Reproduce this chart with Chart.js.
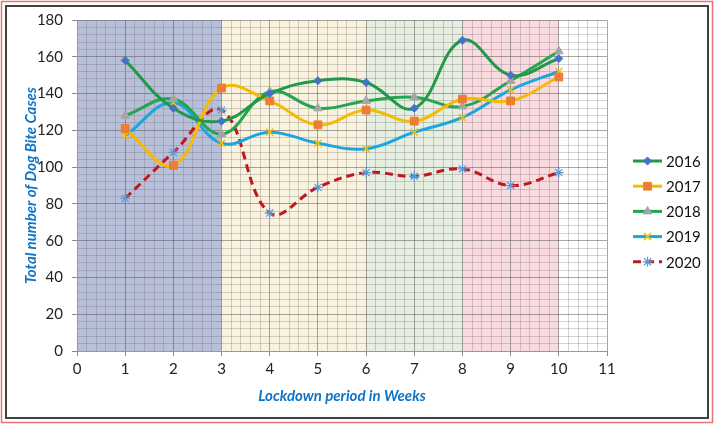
<!DOCTYPE html>
<html>
<head>
<meta charset="utf-8">
<script src="https://cdn.jsdelivr.net/npm/chart.js@4.4.1/dist/chart.umd.min.js"></script>
<style>
  html, body { margin: 0; padding: 0; background: #fff; }
  #wrap { width: 714px; height: 424px; position: relative; }
</style>
</head>
<body>
<div id="wrap"><canvas id="chart"></canvas></div>
<script>
// --- DATA ---
const weeks = [1, 2, 3, 4, 5, 6, 7, 8, 9, 10];
const cases2016 = [158, 132, 125, 140, 147, 146, 132, 169, 150, 159];
const cases2017 = [121, 101, 143, 136, 123, 131, 125, 137, 136, 149];
const cases2018 = [128, 137, 118, 141, 132, 136, 138, 133, 147, 163];
const cases2019 = [117, 135, 113, 119, 113, 110, 119, 127, 142, 152];
const cases2020 = [83, 108, 131, 75, 89, 97, 95, 99, 90, 97];
const seriesLabels = ['2016', '2017', '2018', '2019', '2020'];

// lockdown phase bands (week ranges)
const bandStarts = [0, 3, 6, 8];
const bandEnds = [3, 6, 8, 10];
const bandColors = ['#b8bfd8', '#f9f2df', '#e5eee0', '#f9dade'];

const FONT = 'Lato, "Open Sans", sans-serif';

function toPoints(values) {
    return weeks.map((w, i) => ({ x: w, y: values[i] }));
}

function isWhole(v, step) {
    const r = v / step;
    return Math.abs(r - Math.round(r)) < 1e-6;
}

// --- PLUGINS ---
const bandsPlugin = {
    id: 'bands',
    beforeDraw(chart) {
        const { ctx, chartArea, scales } = chart;
        ctx.save();
        bandStarts.forEach((start, i) => {
            const x0 = scales.x.getPixelForValue(start);
            const x1 = scales.x.getPixelForValue(bandEnds[i]);
            ctx.fillStyle = bandColors[i];
            ctx.fillRect(x0, chartArea.top, x1 - x0, chartArea.bottom - chartArea.top);
        });
        ctx.restore();
    }
};

const frameLegendPlugin = {
    id: 'frameLegend',
    afterDraw(chart) {
        const ctx = chart.ctx;
        ctx.save();
        // outer frame
        ctx.strokeStyle = '#e57373';
        ctx.lineWidth = 1.5;
        ctx.strokeRect(1.5, 1.5, 711, 421);
        ctx.strokeStyle = '#404040';
        ctx.lineWidth = 2;
        ctx.strokeRect(6, 6, 702, 412);

        // legend: line + marker + label
        const x0 = 633, x1 = 662, y0 = 161, gap = 25.2;
        chart.data.datasets.forEach((ds, i) => {
            const y = y0 + i * gap;
            ctx.beginPath();
            ctx.setLineDash(ds.borderDash || []);
            ctx.strokeStyle = ds.borderColor;
            ctx.lineWidth = ds.borderWidth;
            ctx.moveTo(x0, y);
            ctx.lineTo(x1, y);
            ctx.stroke();
            ctx.setLineDash([]);
            ctx.fillStyle = ds.pointBackgroundColor;
            ctx.strokeStyle = ds.pointBorderColor;
            ctx.lineWidth = ds.pointBorderWidth;
            Chart.helpers.drawPoint(ctx, {
                pointStyle: ds.pointStyle,
                radius: ds.pointRadius,
                rotation: 0,
                borderWidth: ds.pointBorderWidth
            }, (x0 + x1) / 2, y);
            ctx.fillStyle = '#111';
            ctx.font = '15px ' + FONT;
            ctx.textBaseline = 'middle';
            ctx.textAlign = 'left';
            ctx.fillText(ds.label, x1 + 4, y + 1);
        });
        ctx.restore();
    }
};

// --- DATASETS ---
function makeSeries(label, values, lineColor, style, markerColor, extra) {
    return Object.assign({
        label: label,
        data: toPoints(values),
        borderColor: lineColor,
        borderWidth: 3,
        tension: 0.4,
        pointStyle: style,
        pointRadius: 5,
        pointHoverRadius: 5,
        pointBackgroundColor: markerColor,
        pointBorderColor: markerColor,
        pointBorderWidth: 1,
        fill: false
    }, extra || {});
}

const datasets = [
    makeSeries(seriesLabels[0], cases2016, '#1f9a4a', 'rectRot', '#4472c4', { pointRadius: 4 }),
    makeSeries(seriesLabels[1], cases2017, '#f6bb00', 'rect', '#ed7d31', { pointRadius: 5.5 }),
    makeSeries(seriesLabels[2], cases2018, '#25a551', 'triangle', '#a5a5a5'),
    makeSeries(seriesLabels[3], cases2019, '#1da6de', 'crossRot', '#f5c000', { pointBorderWidth: 1.5 }),
    makeSeries(seriesLabels[4], cases2020, '#c0161e', 'star', '#5b9bd5', { borderDash: [8, 5], pointBorderWidth: 1.2 })
];

// 2016 drawn on top like the original
datasets.forEach((ds, i) => { ds.order = i; });

new Chart(document.getElementById('chart'), {
    type: 'line',
    data: { datasets: datasets },
    options: {
        responsive: true,
        maintainAspectRatio: false,
        animation: false,
        layout: { padding: { top: 20, right: 107, bottom: 0, left: 0 } },
        plugins: {
            legend: { display: false },
            tooltip: { enabled: false }
        },
        scales: {
            x: {
                type: 'linear',
                min: 0,
                max: 11,
                afterFit: s => { s.height = 73; },
                ticks: {
                    stepSize: 0.2,
                    autoSkip: false,
                    maxRotation: 0,
                    padding: 4,
                    color: '#222',
                    font: { family: FONT, size: 15 },
                    callback: v => isWhole(v, 1) ? Math.round(v) : ''
                },
                grid: {
                    tickLength: 5,
                    color: c => isWhole(c.tick.value, 1) ? 'rgba(80,80,80,0.5)' : 'rgba(110,110,110,0.3)',
                    tickColor: c => isWhole(c.tick.value, 1) ? '#888' : 'rgba(0,0,0,0)'
                },
                border: { color: '#999' },
                title: {
                    display: true,
                    text: 'Lockdown period in Weeks',
                    color: '#0f73c6',
                    padding: { top: 0, bottom: 19 },
                    font: { family: FONT, size: 15, weight: 'bold', style: 'italic' }
                }
            },
            y: {
                min: 0,
                max: 180,
                afterFit: s => { s.width = 77; },
                ticks: {
                    stepSize: 4,
                    autoSkip: false,
                    padding: 9,
                    color: '#222',
                    font: { family: FONT, size: 15 },
                    callback: v => isWhole(v, 20) ? Math.round(v) : ''
                },
                grid: {
                    tickLength: 5,
                    color: c => isWhole(c.tick.value, 20) ? 'rgba(80,80,80,0.5)' : 'rgba(110,110,110,0.3)',
                    tickColor: c => isWhole(c.tick.value, 20) ? '#888' : 'rgba(0,0,0,0)'
                },
                border: { color: '#999' },
                title: {
                    display: true,
                    text: 'Total number of Dog Bite Cases',
                    color: '#0f73c6',
                    padding: { top: 22, bottom: 0 },
                    font: { family: FONT, size: 15, weight: 'bold', style: 'italic' }
                }
            }
        }
    },
    plugins: [bandsPlugin, frameLegendPlugin]
});
</script>
</body>
</html>
